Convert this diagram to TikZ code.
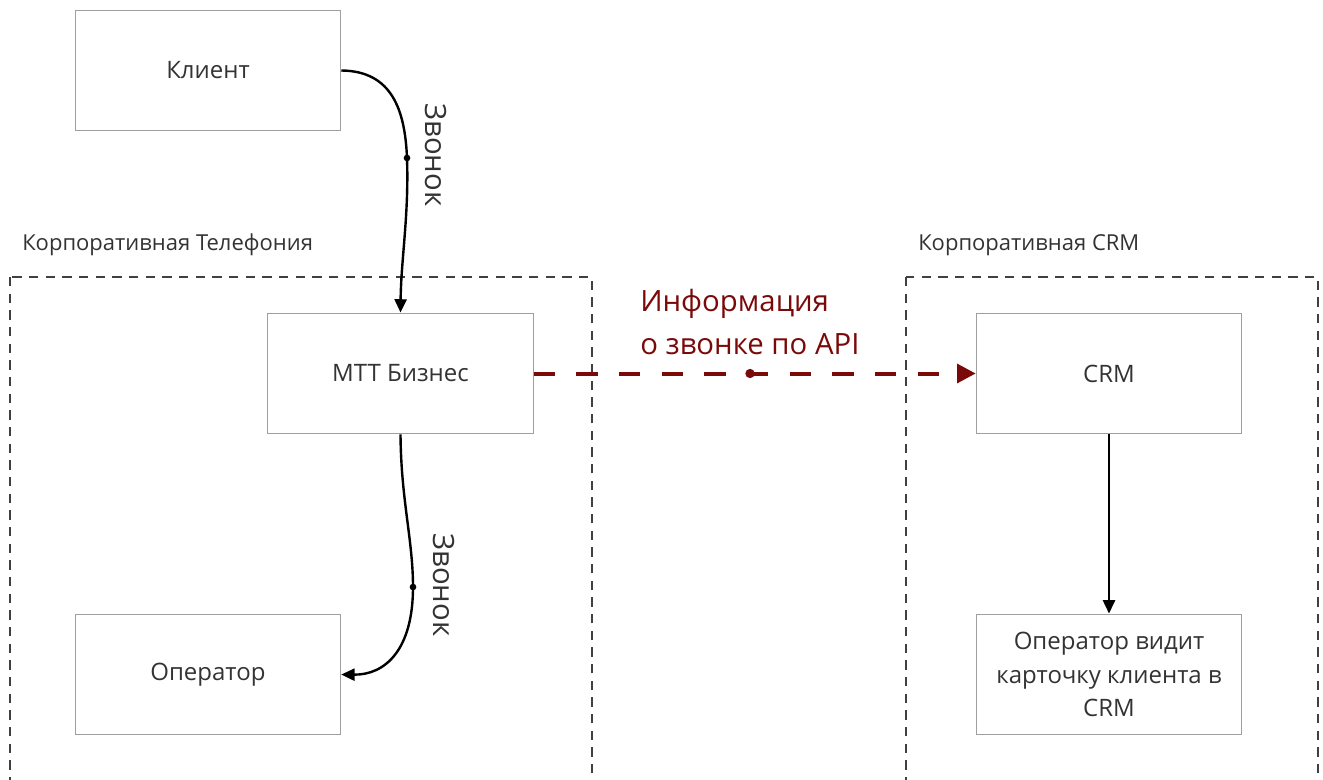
\documentclass[tikz,border=0pt]{standalone}
\usepackage{fontspec}
\setmainfont{Open Sans}
\usepackage{tikz}
\usetikzlibrary{%
  arrows.meta,%
  calc,%
  positioning}

\definecolor{txtgray}{HTML}{333333}
\definecolor{apired}{HTML}{7A0A0A}

\begin{document}
\begin{tikzpicture}[x=0.75pt,y=-0.75pt,
    box/.style={draw=gray!75,line width=0.9pt,minimum width=199pt,minimum height=90.5pt,
      align=center,text=txtgray,font=\fontsize{18}{25}\selectfont,inner sep=0pt},
    area/.style={draw=black!75,line width=1.6pt,dash pattern=on 7pt off 5.5pt},
    arealabel/.style={anchor=west,text=txtgray,font=\fontsize{16.5}{20}\selectfont,inner sep=0pt},
    call/.style={-{Triangle[length=10pt,width=9pt]},line width=1.8pt},
    calllabel/.style={rotate=-90,text=txtgray,font=\fontsize{22}{26}\selectfont},
    dot/.style={circle,fill,inner sep=0pt,minimum size=5pt}]
      \useasboundingbox (0,0) rectangle (1323,780);
      % areas
      \draw[area] (10,277) -- (10,790) (592,790) -- (592,277) -- (10,277);
      \draw[area] (906,277) -- (906,790) (1318,790) -- (1318,277) -- (906,277);
      \path (22,245) node[arealabel] (tellabel) {Корпоративная Телефония}
      (918,245) node[arealabel] (crmlabel) {Корпоративная CRM};
      % boxes
      \path (208,70.5) node[box] (client) {Клиент}
      (400.5,373.5) node[box] (mtt) {МТТ Бизнес}
      (208,674.5) node[box] (oper) {Оператор}
      (1109,373.5) node[box] (crm) {CRM}
      (1109,674.5) node[box] (card) {Оператор видит\\карточку клиента в\\CRM};
      % calls
      \coordinate (m1) at (407,158);
      \coordinate (m2) at (413,587);
      \draw[call] (client.east) .. controls (392,71) and (405,110) .. (m1)
        .. controls (409,215) and (401,260) .. (mtt.north);
      \node[dot] at (m1) {};
      \node[calllabel] (call1) at (436,155) {Звонок};
      \draw[call] (mtt.south) .. controls (401,500) and (413,540) .. (m2)
        .. controls (413,650) and (385,675) .. (oper.east);
      \node[dot] at (m2) {};
      \node[calllabel] (call2) at (444,585) {Звонок};
      % api
      \coordinate (m3) at (750,373.5);
      \draw[-{Triangle[length=14pt,width=14pt]},apired,line width=3pt,dash pattern=on 16pt off 16pt] (mtt.east) -- (crm.west);
      \node[dot,apired,minimum size=7pt] (apidot) at (m3) {};
      \node[anchor=west,align=left,text=apired,font=\fontsize{22}{32}\selectfont,inner sep=0pt] (apilabel) at (640,322) {Информация\\о звонке по API};
      \draw[call] (crm.south) -- (card.north);
    \end{tikzpicture}
\end{document}
